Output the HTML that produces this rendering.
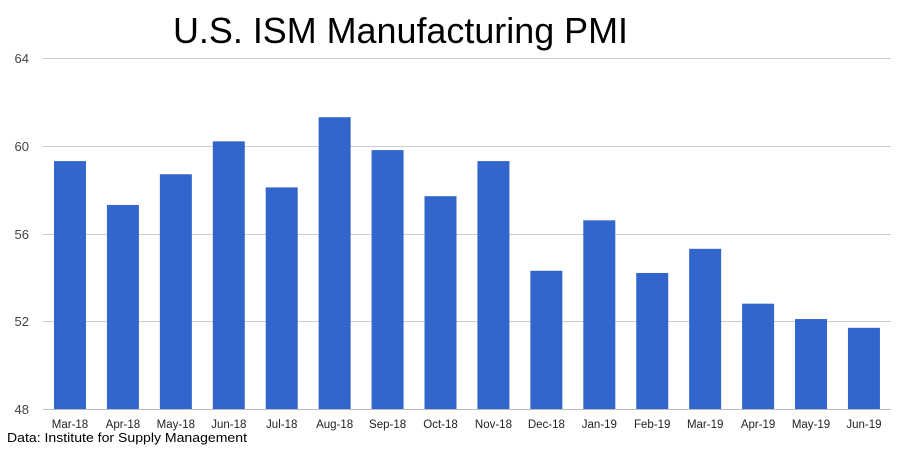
<!DOCTYPE html>
<html><head><meta charset="utf-8"><style>body{margin:0;background:#fff}svg{display:block}</style></head><body>
<svg width="901" height="450" xmlns="http://www.w3.org/2000/svg" font-family="Liberation Sans, Arial, sans-serif">
<rect width="901" height="450" fill="#fff"/>
<text x="173" y="43" font-size="36" fill="#000" textLength="455" lengthAdjust="spacingAndGlyphs">U.S. ISM Manufacturing PMI</text>
<g stroke="#cccccc" stroke-width="1">
<line x1="43" x2="891" y1="58.5" y2="58.5"/>
<line x1="43" x2="891" y1="146.5" y2="146.5"/>
<line x1="43" x2="891" y1="234.5" y2="234.5"/>
<line x1="43" x2="891" y1="321.5" y2="321.5"/>
</g>
<g font-size="13" fill="#444" text-anchor="end">
<text x="29" y="63">64</text><text x="29" y="151">60</text><text x="29" y="239">56</text><text x="29" y="326">52</text><text x="29" y="414">48</text>
</g>
<g fill="#3366cc" id="bars"></g>
<line x1="43" x2="891" y1="409.5" y2="409.5" stroke="#bbbbbb"/>
<g font-size="11.5" fill="#222" text-anchor="middle" id="labels"></g>
<text x="7" y="442" font-size="13" fill="#000" textLength="240" lengthAdjust="spacingAndGlyphs">Data: Institute for Supply Management</text>
<script>
var v=[59.3,57.3,58.7,60.2,58.1,61.3,59.8,57.7,59.3,54.3,56.6,54.2,55.3,52.8,52.1,51.7];
var l=["Mar-18","Apr-18","May-18","Jun-18","Jul-18","Aug-18","Sep-18","Oct-18","Nov-18","Dec-18","Jan-19","Feb-19","Mar-19","Apr-19","May-19","Jun-19"];
var b=document.getElementById("bars"),t=document.getElementById("labels"),ns="http://www.w3.org/2000/svg";
for(var i=0;i<16;i++){var x=54+i*52.93,y=409-(v[i]-48)*21.94;
var r=document.createElementNS(ns,"rect");r.setAttribute("x",x);r.setAttribute("y",y);r.setAttribute("width",32);r.setAttribute("height",409.5-y);b.appendChild(r);
var s=document.createElementNS(ns,"text");s.setAttribute("x",x+16);s.setAttribute("y",428);s.textContent=l[i];t.appendChild(s);}
</script>
</svg>
</body></html>
